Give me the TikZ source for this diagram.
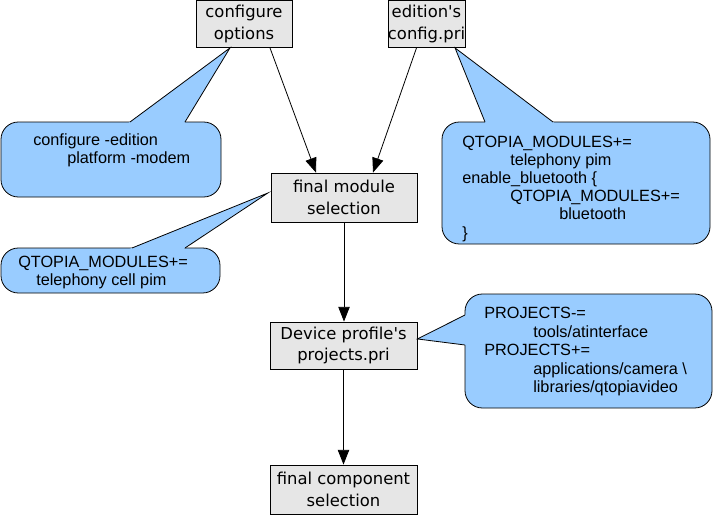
\documentclass[tikz,border=0pt]{standalone}
\usepackage{fontspec}
\newfontfamily\boxfont{DejaVu Sans}
\newfontfamily\callfont{Liberation Sans}
\usetikzlibrary{arrows.meta,calc}
\definecolor{boxgray}{HTML}{E6E6E6}
\definecolor{callblue}{HTML}{99CCFF}
\begin{document}
\begin{tikzpicture}[x=0.75pt,y=-0.75pt,
  stepbox/.style={draw=black,fill=boxgray,line width=0.6pt,inner sep=0pt,align=center,
    font=\boxfont\fontsize{12.3}{16.2}\selectfont},
  callbody/.style={draw=black,fill=callblue,line width=0.6pt,rounded corners=13pt},
  callfill/.style={fill=callblue},
  calledge/.style={draw=black,line width=0.6pt,line join=miter},
  calltext/.style={anchor=base west,inner sep=0pt,font=\callfont\fontsize{12.2}{13.7}\selectfont},
  flow/.style={draw=black,line width=0.6pt,-{Triangle[length=11pt,width=8.5pt]}}]
\useasboundingbox (0,0) rectangle (713,517);

% boxes
\node[stepbox,minimum width=72pt,minimum height=35.25pt] (co) at (244,24) {configure\\options};
\node[stepbox,minimum width=53.25pt,minimum height=35.25pt] (ed) at (426.5,24) {edition's\\config.pri};
\node[stepbox,minimum width=109.5pt,minimum height=36.75pt] (fm) at (344,197.5) {final module\\selection};
\node[stepbox,minimum width=110.25pt,minimum height=35.25pt] (dp) at (343.5,345.5) {Device profile's\\projects.pri};
\node[stepbox,minimum width=110.25pt,minimum height=36.75pt] (fc) at (343.5,489.5) {final component\\selection};

% connectors
\draw[flow] ([xshift=19.5pt]co.south) -- ([xshift=-21pt]fm.north);
\draw[flow] ([xshift=-7.5pt]ed.south) -- ([xshift=21.75pt]fm.north);
\draw[flow] (fm.south) -- (fm.south |- dp.north);
\draw[flow] (dp.south) -- (dp.south |- fc.north);

% callout tips
\coordinate (t1) at ([xshift=-10.5pt]co.south);
\coordinate (t2) at ([xshift=21.4pt]ed.south);
\coordinate (t3) at ([yshift=3.4pt,xshift=-2pt]fm.west);
\coordinate (t4) at ([yshift=4.9pt]dp.east);

% callout 1
\path[callbody] (1,122) rectangle (221,197);
\coordinate (a1) at (130,122); \coordinate (b1) at (185,122);
\path[callfill] ($(t1)!1.1!(a1)$) -- (t1) -- ($(t1)!1.1!(b1)$) -- cycle;
\draw[calledge] (a1) -- (t1) -- (b1);
\node[calltext] (c1a) at (33,145) {configure -edition};
\node[calltext] (c1b) at (67,163) {platform -modem};

% callout 2
\path[callbody] (442,122) rectangle (710,244);
\coordinate (a2) at (485,122); \coordinate (b2) at (553,122);
\path[callfill] ($(t2)!1.1!(a2)$) -- (t2) -- ($(t2)!1.1!(b2)$) -- cycle;
\draw[calledge] (a2) -- (t2) -- (b2);
\node[calltext] (c2a) at (462,147) {QTOPIA\_MODULES+=};
\node[calltext] (c2b) at (510,165) {telephony pim};
\node[calltext] (c2c) at (462,183) {enable\_bluetooth \{};
\node[calltext] (c2d) at (510,201) {QTOPIA\_MODULES+=};
\node[calltext] (c2e) at (559,219) {bluetooth};
\node[calltext] (c2f) at (462,238) {\}};

% callout 3
\path[callbody] (1,248) rectangle (220,293);
\coordinate (a3) at (132,248); \coordinate (b3) at (185,248);
\path[callfill] ($(t3)!1.05!(a3)$) -- (t3) -- ($(t3)!1.05!(b3)$) -- cycle;
\draw[calledge] (a3) -- (t3) -- (b3);
\node[calltext] (c3a) at (18,267) {QTOPIA\_MODULES+=};
\node[calltext] (c3b) at (36,285) {telephony cell pim};

% callout 4
\path[callbody] (465,294) rectangle (712,408);
\coordinate (a4) at (465,315); \coordinate (b4) at (465,345);
\path[callfill] ($(t4)!1.1!(a4)$) -- (t4) -- ($(t4)!1.1!(b4)$) -- cycle;
\draw[calledge] (a4) -- (t4) -- (b4);
\node[calltext] (c4a) at (484,318) {PROJECTS-=};
\node[calltext] (c4b) at (533,337) {tools/atinterface};
\node[calltext] (c4c) at (484,355) {PROJECTS+=};
\node[calltext] (c4d) at (533,374) {applications/camera \textbackslash};
\node[calltext] (c4e) at (533,392) {libraries/qtopiavideo};
\end{tikzpicture}
\end{document}
